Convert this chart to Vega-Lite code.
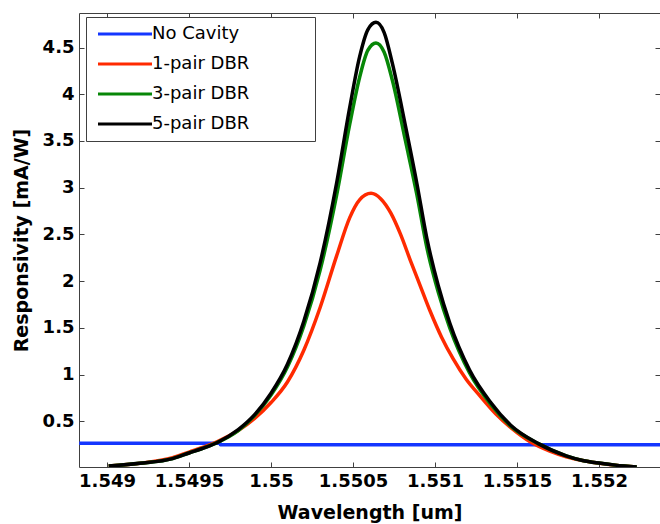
{
  "$schema": "https://vega.github.io/schema/vega-lite/v6.json",
  "width": 581,
  "height": 454,
  "autosize": {"type": "none"},
  "padding": {"left": 79, "top": 13, "right": 0, "bottom": 57},
  "background": "white",
  "config": {
    "view": {"stroke": null},
    "axis": {
      "grid": false,
      "labelFont": "DejaVu Sans",
      "labelFontWeight": "bold",
      "labelFontSize": 18,
      "labelColor": "black",
      "titleFont": "DejaVu Sans",
      "titleFontWeight": "bold",
      "titleFontSize": 19,
      "titleColor": "black",
      "domainColor": "#404040",
      "tickColor": "#404040",
      "tickSize": -5
    }
  },
  "data": {
    "values": [
      {"s": "No Cavity", "x": 1.54883, "y": 0.264},
      {"s": "No Cavity", "x": 1.54969, "y": 0.264},
      {"s": "No Cavity", "x": 1.549691, "y": 0.247},
      {"s": "No Cavity", "x": 1.55238, "y": 0.247},

      {"s": "1-pair DBR", "x": 1.54901, "y": 0.02},
      {"s": "1-pair DBR", "x": 1.5492, "y": 0.05},
      {"s": "1-pair DBR", "x": 1.5494, "y": 0.11},
      {"s": "1-pair DBR", "x": 1.5495, "y": 0.17},
      {"s": "1-pair DBR", "x": 1.5496, "y": 0.23},
      {"s": "1-pair DBR", "x": 1.54967, "y": 0.28},
      {"s": "1-pair DBR", "x": 1.5498, "y": 0.40},
      {"s": "1-pair DBR", "x": 1.5499, "y": 0.53},
      {"s": "1-pair DBR", "x": 1.55, "y": 0.70},
      {"s": "1-pair DBR", "x": 1.5501, "y": 0.92},
      {"s": "1-pair DBR", "x": 1.5502, "y": 1.26},
      {"s": "1-pair DBR", "x": 1.5503, "y": 1.72},
      {"s": "1-pair DBR", "x": 1.5504, "y": 2.27},
      {"s": "1-pair DBR", "x": 1.55048, "y": 2.68},
      {"s": "1-pair DBR", "x": 1.55054, "y": 2.87},
      {"s": "1-pair DBR", "x": 1.55061, "y": 2.94},
      {"s": "1-pair DBR", "x": 1.55067, "y": 2.88},
      {"s": "1-pair DBR", "x": 1.55073, "y": 2.73},
      {"s": "1-pair DBR", "x": 1.55079, "y": 2.50},
      {"s": "1-pair DBR", "x": 1.55085, "y": 2.22},
      {"s": "1-pair DBR", "x": 1.55091, "y": 1.95},
      {"s": "1-pair DBR", "x": 1.55097, "y": 1.68},
      {"s": "1-pair DBR", "x": 1.55104, "y": 1.40},
      {"s": "1-pair DBR", "x": 1.55111, "y": 1.17},
      {"s": "1-pair DBR", "x": 1.55119, "y": 0.95},
      {"s": "1-pair DBR", "x": 1.55127, "y": 0.78},
      {"s": "1-pair DBR", "x": 1.55137, "y": 0.58},
      {"s": "1-pair DBR", "x": 1.55147, "y": 0.42},
      {"s": "1-pair DBR", "x": 1.55158, "y": 0.28},
      {"s": "1-pair DBR", "x": 1.5517, "y": 0.18},
      {"s": "1-pair DBR", "x": 1.5518, "y": 0.12},
      {"s": "1-pair DBR", "x": 1.5519, "y": 0.08},
      {"s": "1-pair DBR", "x": 1.552, "y": 0.05},
      {"s": "1-pair DBR", "x": 1.5521, "y": 0.03},
      {"s": "1-pair DBR", "x": 1.55223, "y": 0.01},

      {"s": "3-pair DBR", "x": 1.54901, "y": 0.02},
      {"s": "3-pair DBR", "x": 1.5492, "y": 0.05},
      {"s": "3-pair DBR", "x": 1.5494, "y": 0.10},
      {"s": "3-pair DBR", "x": 1.5495, "y": 0.16},
      {"s": "3-pair DBR", "x": 1.5496, "y": 0.22},
      {"s": "3-pair DBR", "x": 1.54967, "y": 0.27},
      {"s": "3-pair DBR", "x": 1.5498, "y": 0.40},
      {"s": "3-pair DBR", "x": 1.5499, "y": 0.56},
      {"s": "3-pair DBR", "x": 1.55, "y": 0.78},
      {"s": "3-pair DBR", "x": 1.5501, "y": 1.08},
      {"s": "3-pair DBR", "x": 1.5502, "y": 1.52},
      {"s": "3-pair DBR", "x": 1.5503, "y": 2.12},
      {"s": "3-pair DBR", "x": 1.5504, "y": 2.92},
      {"s": "3-pair DBR", "x": 1.55048, "y": 3.68},
      {"s": "3-pair DBR", "x": 1.55054, "y": 4.18},
      {"s": "3-pair DBR", "x": 1.55059, "y": 4.47},
      {"s": "3-pair DBR", "x": 1.55064, "y": 4.55},
      {"s": "3-pair DBR", "x": 1.55069, "y": 4.45},
      {"s": "3-pair DBR", "x": 1.55074, "y": 4.15},
      {"s": "3-pair DBR", "x": 1.55082, "y": 3.50},
      {"s": "3-pair DBR", "x": 1.55089, "y": 2.92},
      {"s": "3-pair DBR", "x": 1.55095, "y": 2.36},
      {"s": "3-pair DBR", "x": 1.55102, "y": 1.88},
      {"s": "3-pair DBR", "x": 1.55109, "y": 1.50},
      {"s": "3-pair DBR", "x": 1.55121, "y": 1.02},
      {"s": "3-pair DBR", "x": 1.55134, "y": 0.68},
      {"s": "3-pair DBR", "x": 1.55146, "y": 0.45},
      {"s": "3-pair DBR", "x": 1.55163, "y": 0.26},
      {"s": "3-pair DBR", "x": 1.5518, "y": 0.13},
      {"s": "3-pair DBR", "x": 1.5519, "y": 0.08},
      {"s": "3-pair DBR", "x": 1.55201, "y": 0.05},
      {"s": "3-pair DBR", "x": 1.5521, "y": 0.03},
      {"s": "3-pair DBR", "x": 1.55223, "y": 0.01},

      {"s": "5-pair DBR", "x": 1.54901, "y": 0.02},
      {"s": "5-pair DBR", "x": 1.5492, "y": 0.05},
      {"s": "5-pair DBR", "x": 1.5494, "y": 0.10},
      {"s": "5-pair DBR", "x": 1.5495, "y": 0.16},
      {"s": "5-pair DBR", "x": 1.5496, "y": 0.22},
      {"s": "5-pair DBR", "x": 1.54967, "y": 0.27},
      {"s": "5-pair DBR", "x": 1.5498, "y": 0.41},
      {"s": "5-pair DBR", "x": 1.5499, "y": 0.57},
      {"s": "5-pair DBR", "x": 1.55, "y": 0.80},
      {"s": "5-pair DBR", "x": 1.5501, "y": 1.11},
      {"s": "5-pair DBR", "x": 1.5502, "y": 1.57},
      {"s": "5-pair DBR", "x": 1.5503, "y": 2.20},
      {"s": "5-pair DBR", "x": 1.5504, "y": 3.05},
      {"s": "5-pair DBR", "x": 1.55048, "y": 3.86},
      {"s": "5-pair DBR", "x": 1.55054, "y": 4.40},
      {"s": "5-pair DBR", "x": 1.55059, "y": 4.69},
      {"s": "5-pair DBR", "x": 1.55064, "y": 4.77},
      {"s": "5-pair DBR", "x": 1.55069, "y": 4.66},
      {"s": "5-pair DBR", "x": 1.55074, "y": 4.33},
      {"s": "5-pair DBR", "x": 1.55082, "y": 3.66},
      {"s": "5-pair DBR", "x": 1.55089, "y": 3.04},
      {"s": "5-pair DBR", "x": 1.55095, "y": 2.46},
      {"s": "5-pair DBR", "x": 1.55102, "y": 1.95},
      {"s": "5-pair DBR", "x": 1.55109, "y": 1.55},
      {"s": "5-pair DBR", "x": 1.55121, "y": 1.05},
      {"s": "5-pair DBR", "x": 1.55134, "y": 0.70},
      {"s": "5-pair DBR", "x": 1.55146, "y": 0.46},
      {"s": "5-pair DBR", "x": 1.55163, "y": 0.26},
      {"s": "5-pair DBR", "x": 1.5518, "y": 0.13},
      {"s": "5-pair DBR", "x": 1.5519, "y": 0.08},
      {"s": "5-pair DBR", "x": 1.55201, "y": 0.05},
      {"s": "5-pair DBR", "x": 1.5521, "y": 0.03},
      {"s": "5-pair DBR", "x": 1.55223, "y": 0.01}
    ]
  },
  "layer": [
    {
      "mark": {"type": "line", "strokeWidth": 3.5, "clip": true, "interpolate": "monotone"},
      "encoding": {
        "x": {
          "field": "x", "type": "quantitative",
          "scale": {"domain": [1.548829, 1.552372], "nice": false, "zero": false},
          "axis": {
            "orient": "bottom",
            "values": [1.549, 1.5495, 1.55, 1.5505, 1.551, 1.5515, 1.552],
            "format": "~f",
            "labelPadding": 10,
            "title": "Wavelength [um]",
            "titlePadding": 13
          }
        },
        "y": {
          "field": "y", "type": "quantitative",
          "scale": {"domain": [0.01, 4.87], "nice": false, "zero": false},
          "axis": {
            "orient": "left",
            "values": [0.5, 1, 1.5, 2, 2.5, 3, 3.5, 4, 4.5],
            "format": "~f",
            "labelPadding": 10,
            "title": "Responsivity [mA/W]",
            "titlePadding": 11
          }
        },
        "color": {
          "field": "s", "type": "nominal",
          "sort": ["No Cavity", "1-pair DBR", "3-pair DBR", "5-pair DBR"],
          "scale": {
            "domain": ["No Cavity", "1-pair DBR", "3-pair DBR", "5-pair DBR"],
            "range": ["#1436ff", "#ff2a00", "#078707", "#000000"]
          },
          "legend": {
            "orient": "none",
            "legendX": 7,
            "legendY": 4,
            "title": null,
            "symbolType": "M-1,0H9.8",
            "symbolSize": 100,
            "symbolStrokeWidth": 3,
            "labelFont": "DejaVu Sans",
            "labelFontSize": 18,
            "labelColor": "black",
            "labelOffset": 40,
            "labelLimit": 250,
            "rowPadding": 12,
            "padding": 8,
            "strokeColor": "#404040",
            "fillColor": "white",
            "labelExpr": "datum.label + '\u00a0\u00a0\u00a0\u00a0\u00a0\u00a0\u00a0\u00a0\u00a0\u00a0\u200b'"
          }
        }
      }
    },
    {
      "mark": {"type": "line", "strokeOpacity": 0},
      "encoding": {
        "x": {
          "field": "x", "type": "quantitative",
          "axis": {
            "orient": "top",
            "values": [1.549, 1.5495, 1.55, 1.5505, 1.551, 1.5515, 1.552],
            "labels": false,
            "title": null
          }
        },
        "y": {
          "field": "y", "type": "quantitative",
          "axis": {
            "orient": "right",
            "values": [0.5, 1, 1.5, 2, 2.5, 3, 3.5, 4, 4.5],
            "labels": false,
            "domain": false,
            "title": null
          }
        }
      }
    }
  ],
  "resolve": {"axis": {"x": "independent", "y": "independent"}}
}
